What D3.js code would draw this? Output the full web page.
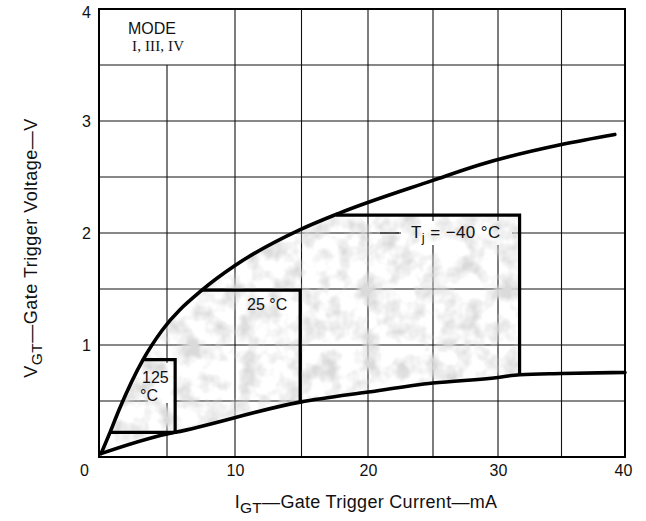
<!DOCTYPE html>
<html><head><meta charset="utf-8">
<script src="https://cdn.jsdelivr.net/npm/d3@7"></script>
<style>body{margin:0;background:#fff}svg{display:block}</style>
</head><body><svg id="c" width="646" height="521"></svg>
<script>
// ---- data ----
const xTicks = [0, 10, 20, 30, 40];
const yTicks = [1, 2, 3, 4];
const xGrid = [5, 10, 15, 20, 25, 30, 35];
const yGrid = [0.5, 1, 1.5, 2, 2.5, 3, 3.5];
const upperI = [0.15, 0.81, 1.47, 3.24, 4.63, 7.57, 10, 14.9, 17.9, 25, 28.6, 35, 39.2];
const upperV = [0.03, 0.22, 0.42, 0.87, 1.13, 1.49, 1.71, 2.03, 2.18, 2.47, 2.61, 2.79, 2.88];
const lowerI = [0.15, 5, 5.6, 14.9, 20, 25, 30, 31.7, 35, 40];
const lowerV = [0.03, 0.205, 0.22, 0.49, 0.58, 0.66, 0.71, 0.735, 0.745, 0.755];
const boxLabels = ["125", "°C", "25 °C", "−40 °C"];
const boxTopV = [0.87, 1.49, 2.16];
const boxTopStartI = [3.24, 7.57, 17.6];
const boxRightI = [5.6, 14.9, 31.7];
const boxBottomV = [0.22, 0.49, 0.735];
const boxBottomStartI = [0.81, null, null];

// ---- scales ----
const svg = d3.select("#c");
const x = d3.scaleLinear().domain([0, 10, 20, 30, 40]).range([99, 235, 368, 498, 625]);
const y = d3.scaleLinear().domain([0, 4]).range([457, 9]);

svg.append("rect").attr("width", 646).attr("height", 521).attr("fill", "#fff");

const defs = svg.append("defs");
const f = defs.append("filter").attr("id", "mottle").attr("x", 0).attr("y", 0).attr("width", 1).attr("height", 1);
f.append("feTurbulence").attr("type", "fractalNoise").attr("baseFrequency", "0.05").attr("numOctaves", 3).attr("seed", 7).attr("result", "n");
f.append("feColorMatrix").attr("in", "n").attr("type", "matrix")
  .attr("values", "0 0 0 0 0.7  0 0 0 0 0.7  0 0 0 0 0.7  0 0 0 2.6 -1.05").attr("result", "g");
f.append("feComposite").attr("in", "g").attr("in2", "SourceGraphic").attr("operator", "in");

// ---- grid ----
const grid = svg.append("g").attr("stroke", "#111").attr("stroke-width", 1.1);
grid.selectAll(".gx").data(xGrid).join("line")
  .attr("x1", d => x(d)).attr("x2", d => x(d))
  .attr("y1", y(0)).attr("y2", d => d === 5 ? y(3.5) : y(4));
grid.selectAll(".gy").data(yGrid).join("line")
  .attr("x1", x(0)).attr("x2", x(40))
  .attr("y1", d => y(d)).attr("y2", d => y(d));

// label masks (grid breaks behind labels)
svg.append("rect").attr("x", x(3.6)).attr("y", y(0.84)).attr("width", x(5.5) - x(3.6)).attr("height", y(0.5) - y(0.84) + 2).attr("fill", "#fff");
svg.append("rect").attr("x", 401).attr("y", y(2) - 12).attr("width", 111).attr("height", 24).attr("fill", "#fff");

// ---- shaded region ----
const upPts = upperI.map((d, i) => [d, upperV[i]]);
const loPts = lowerI.map((d, i) => [d, lowerV[i]]);
const k = 2;
const poly = upPts.filter(p => p[0] < boxTopStartI[k])
  .concat([[boxTopStartI[k], boxTopV[k]], [boxRightI[k], boxTopV[k]], [boxRightI[k], boxBottomV[k]]])
  .concat(loPts.filter(p => p[0] < boxRightI[k]).reverse());
const lineL = d3.line().x(p => x(p[0])).y(p => y(p[1]));
svg.append("path").attr("d", lineL(poly) + "Z").attr("fill", "#fff").attr("filter", "url(#mottle)");

// ---- curves ----
const lineC = d3.line().x(p => x(p[0])).y(p => y(p[1])).curve(d3.curveMonotoneX);
svg.append("path").attr("d", lineC(upPts)).attr("fill", "none").attr("stroke", "#000").attr("stroke-width", 3.6).attr("stroke-linecap", "round");
svg.append("path").attr("d", lineC(loPts)).attr("fill", "none").attr("stroke", "#000").attr("stroke-width", 3.6).attr("stroke-linecap", "round");

// ---- boxes ----
boxTopV.forEach((v, i) => {
  const pts = [[boxTopStartI[i], v], [boxRightI[i], v], [boxRightI[i], boxBottomV[i]]];
  if (boxBottomStartI[i] !== null) pts.push([boxBottomStartI[i], boxBottomV[i]]);
  svg.append("path").attr("d", lineL(pts)).attr("fill", "none").attr("stroke", "#000").attr("stroke-width", 3.2).attr("stroke-linejoin", "miter");
});

// ---- frame ----
svg.append("rect").attr("x", x(0)).attr("y", y(4)).attr("width", x(40) - x(0)).attr("height", y(0) - y(4))
  .attr("fill", "none").attr("stroke", "#000").attr("stroke-width", 2);

// ---- axes ----
const font = "'Liberation Sans', Arial, sans-serif";
const ax = svg.append("g").attr("transform", `translate(0,${y(0)})`)
  .call(d3.axisBottom(x).tickValues(xTicks).tickSize(0).tickPadding(8).tickFormat(d3.format("d")));
ax.select(".domain").remove();
ax.selectAll("text").attr("font-family", font).attr("font-size", 16).attr("fill", "#111")
  .attr("dx", d => d === 0 ? -15 : (d === 40 ? -2 : 0));
const ay = svg.append("g").attr("transform", `translate(${x(0)},0)`)
  .call(d3.axisLeft(y).tickValues(yTicks).tickSize(0).tickPadding(8).tickFormat(d3.format("d")));
ay.select(".domain").remove();
ay.selectAll("text").attr("font-family", font).attr("font-size", 16).attr("fill", "#111")
  .attr("dy", d => d === 4 ? "0.55em" : "0.32em");

// axis titles
const xt = svg.append("text").attr("x", 366).attr("y", 508).attr("text-anchor", "middle")
  .attr("font-family", font).attr("font-size", 18).attr("letter-spacing", 0.3).attr("fill", "#111");
xt.append("tspan").text("I");
xt.append("tspan").attr("font-size", 15.5).attr("dy", 5).text("GT");
xt.append("tspan").attr("dy", -5).text("—Gate Trigger Current—mA");

const yt = svg.append("text").attr("transform", "translate(37,248) rotate(-90)").attr("text-anchor", "middle")
  .attr("font-family", font).attr("font-size", 18).attr("letter-spacing", 0.5).attr("fill", "#111");
yt.append("tspan").text("V");
yt.append("tspan").attr("font-size", 15.5).attr("dy", 5).text("GT");
yt.append("tspan").attr("dy", -5).text("—Gate Trigger Voltage—V");

// mode label
svg.append("text").attr("x", 128).attr("y", 34).attr("font-family", font).attr("font-size", 16).attr("fill", "#111").text("MODE");
svg.append("text").attr("x", 132).attr("y", 51).attr("font-family", "'Liberation Serif', serif").attr("font-size", 15)
  .attr("textLength", 52).attr("lengthAdjust", "spacing").attr("fill", "#111").text("I, III, IV");

// box labels
svg.append("text").attr("x", 142).attr("y", 383).attr("font-family", font).attr("font-size", 16).attr("fill", "#111").text(boxLabels[0]);
svg.append("text").attr("x", 140).attr("y", 401).attr("font-family", font).attr("font-size", 16).attr("fill", "#111").text(boxLabels[1]);
svg.append("text").attr("x", 247).attr("y", 310).attr("font-family", font).attr("font-size", 16).attr("fill", "#111").text(boxLabels[2]);
const tj = svg.append("text").attr("x", 411).attr("y", 238).attr("font-family", font).attr("font-size", 17).attr("letter-spacing", 0.4).attr("fill", "#111");
tj.append("tspan").text("T");
tj.append("tspan").attr("font-size", 13).attr("dy", 4).text("j");
tj.append("tspan").attr("dy", -4).text(" = " + boxLabels[3]);
// dash before label
svg.append("line").attr("x1", 380).attr("x2", 399).attr("y1", y(2)).attr("y2", y(2)).attr("stroke", "#111").attr("stroke-width", 1.1);
</script></body></html>
